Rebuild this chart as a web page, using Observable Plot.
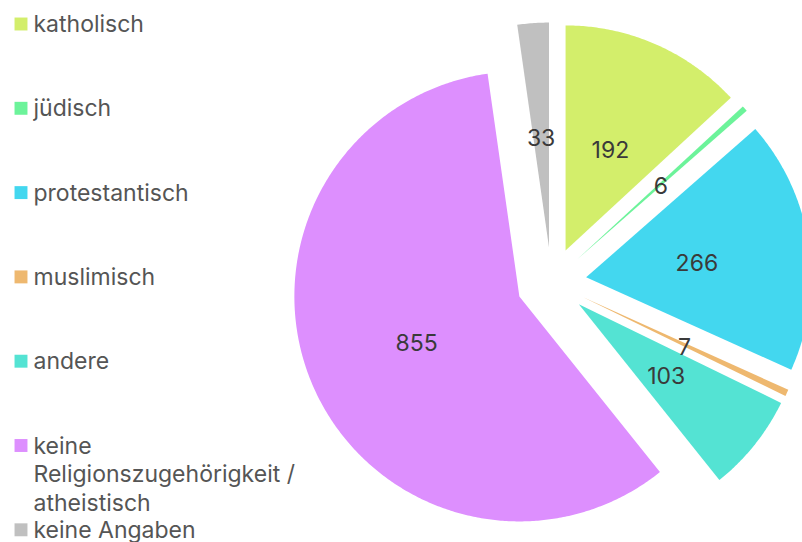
<!DOCTYPE html>
<html>
<head>
<meta charset="utf-8">
<script src="https://cdn.jsdelivr.net/npm/d3@7"></script>
<script src="https://cdn.jsdelivr.net/npm/@observablehq/plot@0.6"></script>
<style>
  html, body { margin: 0; padding: 0; background: #fff; }
  #chart { width: 802px; height: 542px; overflow: hidden; }
</style>
</head>
<body>
<div id="chart"></div>
<script>
// ---- data ----
const categories = [
  "katholisch",
  "jüdisch",
  "protestantisch",
  "muslimisch",
  "andere",
  "keine Religionszugehörigkeit / atheistisch",
  "keine Angaben"
];
const values = [192, 6, 266, 7, 103, 855, 33];
const legendLabels = [
  "katholisch",
  "jüdisch",
  "protestantisch",
  "muslimisch",
  "andere",
  "keine\nReligionszugehörigkeit /\natheistisch",
  "keine Angaben"
];
const colors = ["#d3ee6b", "#6cf39a", "#43d7ef", "#eeb86f", "#54e3d3", "#dd8ffe", "#c0c0c0"];

// ---- layout ----
const W = 802, H = 542;
const cx = 551, cy = 282, R = 225, explode = 35, labelR = 112;
const legendX = 20.5, legendTextX = 33, legendTop = 31, legendStep = 84.3;

const arcs = d3.pie().sort(null).value(d => d)(values);

const slicePts = [];
const labelPts = [];
arcs.forEach((a, i) => {
  const mid = (a.startAngle + a.endAngle) / 2;
  const ox = cx + explode * Math.sin(mid);
  const oy = cy - explode * Math.cos(mid);
  const cat = categories[i];
  slicePts.push({cat, x: ox, y: oy});
  const n = Math.max(2, Math.ceil((a.endAngle - a.startAngle) / (Math.PI / 360)));
  for (let k = 0; k <= n; k++) {
    const t = a.startAngle + (a.endAngle - a.startAngle) * k / n;
    slicePts.push({cat, x: ox + R * Math.sin(t), y: oy - R * Math.cos(t)});
  }
  slicePts.push({cat, x: ox, y: oy});
  labelPts.push({cat, value: values[i], x: ox + labelR * Math.sin(mid), y: oy - labelR * Math.cos(mid)});
});

const legend = categories.map((c, i) => ({
  cat: c,
  label: legendLabels[i],
  baseline: legendTop + i * legendStep
}));

const chart = Plot.plot({
  width: W,
  height: H,
  margin: 0,
  style: {fontFamily: "Inter, 'Noto Sans', sans-serif", background: "#fff", overflow: "hidden"},
  x: {domain: [0, W], range: [0, W], axis: null},
  y: {domain: [0, H], range: [0, H], axis: null},
  color: {domain: categories, range: colors},
  marks: [
    Plot.line(slicePts, {x: "x", y: "y", z: "cat", fill: "cat", stroke: "none"}),
    Plot.text(labelPts, {x: "x", y: "y", dy: 2.5, text: d => String(d.value), fill: "#3a3a3a", fontSize: 23, textAnchor: "middle"}),
    Plot.dot(legend, {x: () => legendX, y: d => d.baseline - 7.5, symbol: "square", r: 7.3, fill: "cat", stroke: "none"}),
    Plot.text(legend, {x: () => legendTextX, y: d => d.baseline - 19.8, text: "label", fill: "#555555", fontSize: 23, textAnchor: "start", lineAnchor: "top", lineHeight: 1.25})
  ]
});
document.getElementById("chart").appendChild(chart);
</script>
</body>
</html>
